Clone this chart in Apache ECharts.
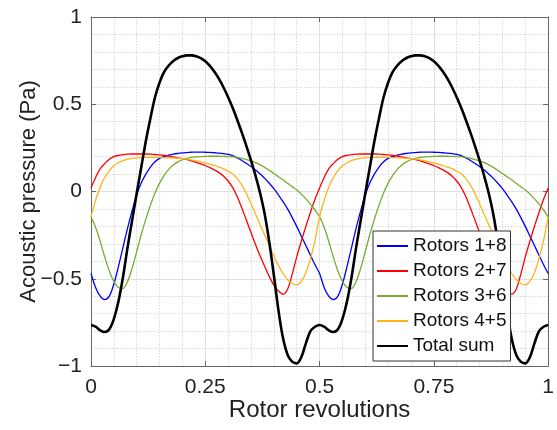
<!DOCTYPE html>
<html>
<head>
<meta charset="utf-8">
<script src="https://cdn.jsdelivr.net/npm/echarts@6/dist/echarts.min.js"></script>
<style>html,body{margin:0;padding:0;background:#fff;}#c{width:557px;height:430px;}</style>
</head>
<body>
<div id="c"></div>
<script>
var revolutions = [0,0.01,0.02,0.03,0.04,0.05,0.06,0.07,0.08,0.09,0.1,0.11,0.12,0.13,0.14,0.15,0.16,0.17,0.18,0.19,0.2,0.21,0.22,0.23,0.24,0.25,0.26,0.27,0.28,0.29,0.3,0.31,0.32,0.33,0.34,0.35,0.36,0.37,0.38,0.39,0.4,0.41,0.42,0.43,0.44,0.45,0.46,0.47,0.48,0.49,0.5,
0.51,0.52,0.53,0.54,0.55,0.56,0.57,0.58,0.59,0.6,0.61,0.62,0.63,0.64,0.65,0.66,0.67,0.68,0.69,0.7,0.71,0.72,0.73,0.74,0.75,0.76,0.77,0.78,0.79,0.8,0.81,0.82,0.83,0.84,0.85,0.86,0.87,0.88,0.89,0.9,0.91,0.92,0.93,0.94,0.95,0.96,0.97,0.98,0.99,1];

var rotors18 = [-0.47,-0.55,-0.60,-0.62,-0.60,-0.53,-0.43,-0.32,-0.21,-0.11,-0.02,0.05,0.10,0.14,0.17,0.19,0.20,0.208,0.214,0.218,0.221,0.223,0.225,0.226,0.226,0.225,0.224,0.222,0.22,0.217,0.213,0.205,0.193,0.178,0.161,0.143,0.123,0.1,0.075,0.047,0.016,-0.02,-0.058,-0.1,-0.148,-0.2,-0.255,-0.31,-0.365,-0.42,-0.47,
-0.55,-0.60,-0.62,-0.60,-0.53,-0.43,-0.32,-0.21,-0.11,-0.02,0.05,0.10,0.14,0.17,0.19,0.20,0.208,0.214,0.218,0.221,0.223,0.225,0.226,0.226,0.225,0.224,0.222,0.22,0.217,0.213,0.205,0.193,0.178,0.161,0.143,0.123,0.1,0.075,0.047,0.016,-0.02,-0.058,-0.1,-0.148,-0.2,-0.255,-0.31,-0.365,-0.42,-0.47];

var rotors27 = [0.02,0.08,0.13,0.16,0.185,0.20,0.207,0.211,0.214,0.215,0.215,0.215,0.215,0.214,0.212,0.21,0.207,0.203,0.198,0.193,0.188,0.182,0.175,0.167,0.158,0.148,0.137,0.124,0.108,0.087,0.06,0.022,-0.03,-0.095,-0.165,-0.235,-0.305,-0.37,-0.43,-0.487,-0.537,-0.57,-0.588,-0.56,-0.475,-0.375,-0.285,-0.2,-0.12,-0.045,0.02,
0.08,0.13,0.16,0.185,0.20,0.207,0.211,0.214,0.215,0.215,0.215,0.215,0.214,0.212,0.21,0.207,0.203,0.198,0.193,0.188,0.182,0.175,0.167,0.158,0.148,0.137,0.124,0.108,0.087,0.06,0.022,-0.03,-0.095,-0.165,-0.235,-0.305,-0.37,-0.43,-0.487,-0.537,-0.57,-0.588,-0.56,-0.475,-0.375,-0.285,-0.2,-0.12,-0.045,0.02];

var rotors36 = [-0.145,-0.205,-0.285,-0.375,-0.455,-0.515,-0.55,-0.555,-0.515,-0.44,-0.345,-0.245,-0.158,-0.078,-0.008,0.048,0.093,0.127,0.152,0.17,0.182,0.19,0.195,0.198,0.2,0.201,0.202,0.202,0.202,0.201,0.2,0.198,0.195,0.19,0.183,0.175,0.165,0.153,0.138,0.121,0.103,0.085,0.067,0.047,0.028,0.008,-0.015,-0.042,-0.072,-0.106,-0.145,
-0.205,-0.285,-0.375,-0.455,-0.515,-0.55,-0.555,-0.515,-0.44,-0.345,-0.245,-0.158,-0.078,-0.008,0.048,0.093,0.127,0.152,0.17,0.182,0.19,0.195,0.198,0.2,0.201,0.202,0.202,0.202,0.201,0.2,0.198,0.195,0.19,0.183,0.175,0.165,0.153,0.138,0.121,0.103,0.085,0.067,0.047,0.028,0.008,-0.015,-0.042,-0.072,-0.106,-0.145];

var rotors45 = [-0.145,-0.05,0.025,0.08,0.12,0.148,0.165,0.177,0.185,0.19,0.193,0.195,0.196,0.196,0.196,0.195,0.194,0.193,0.192,0.19,0.188,0.185,0.181,0.176,0.17,0.164,0.157,0.149,0.14,0.13,0.117,0.1,0.074,0.037,-0.012,-0.07,-0.13,-0.19,-0.25,-0.31,-0.37,-0.425,-0.47,-0.505,-0.527,-0.535,-0.515,-0.465,-0.385,-0.28,-0.145,
-0.05,0.025,0.08,0.12,0.148,0.165,0.177,0.185,0.19,0.193,0.195,0.196,0.196,0.196,0.195,0.194,0.193,0.192,0.19,0.188,0.185,0.181,0.176,0.17,0.164,0.157,0.149,0.14,0.13,0.117,0.1,0.074,0.037,-0.012,-0.07,-0.13,-0.19,-0.25,-0.31,-0.37,-0.425,-0.47,-0.505,-0.527,-0.535,-0.515,-0.465,-0.385,-0.28,-0.145];

var totalSum = [-0.765,-0.775,-0.795,-0.805,-0.79,-0.73,-0.63,-0.49,-0.32,-0.165,-0.01,0.14,0.29,0.42,0.54,0.625,0.685,0.722,0.748,0.765,0.775,0.78,0.78,0.775,0.764,0.746,0.72,0.686,0.645,0.596,0.54,0.478,0.41,0.337,0.26,0.178,0.09,-0.01,-0.13,-0.29,-0.48,-0.68,-0.84,-0.935,-0.975,-0.985,-0.95,-0.87,-0.80,-0.775,-0.765,
-0.775,-0.795,-0.805,-0.79,-0.73,-0.63,-0.49,-0.32,-0.165,-0.01,0.14,0.29,0.42,0.54,0.625,0.685,0.722,0.748,0.765,0.775,0.78,0.78,0.775,0.764,0.746,0.72,0.686,0.645,0.596,0.54,0.478,0.41,0.337,0.26,0.178,0.09,-0.01,-0.13,-0.29,-0.48,-0.68,-0.84,-0.935,-0.975,-0.985,-0.95,-0.87,-0.80,-0.775,-0.765];

var seriesNames = ['Rotors 1+8','Rotors 2+7','Rotors 3+6','Rotors 4+5','Total sum'];
var xTicks = [0, 0.25, 0.5, 0.75, 1];
var yTicks = [-1, -0.5, 0, 0.5, 1];

var FONT = '"Liberation Sans", Arial, sans-serif';
var colors = ['#0000ff','#ff0000','#77ac30','#ffb31a','#000000'];
var widths = [1.3,1.3,1.3,1.3,2.6];
var allData = [rotors18, rotors27, rotors36, rotors45, totalSum];

function pairs(arr){ return revolutions.map(function(x,i){ return [x, arr[i]]; }); }

var series = seriesNames.map(function(n, k){
  return { name: n, type: 'line', data: pairs(allData[k]), symbol: 'none', showSymbol: false,
    smooth: 0.35,
    lineStyle: { color: colors[k], width: widths[k] }, itemStyle: { color: colors[k] },
    z: k === 4 ? 3 : 2, animation: false };
});

var axisLineStyle = { color: '#666', width: 1 };
var chart = echarts.init(document.getElementById('c'), null, { renderer: 'canvas' });
chart.setOption({
  animation: false,
  backgroundColor: '#fff',
  grid: { left: 91, right: 5, top: 17, bottom: 64, containLabel: false },
  xAxis: [{
    type: 'value', min: xTicks[0], max: xTicks[xTicks.length-1], interval: 0.25,
    name: 'Rotor revolutions', nameLocation: 'middle', nameGap: 32, nameMoveOverlap: false,
    nameTextStyle: { fontSize: 24, color: '#222', fontFamily: FONT },
    axisLine: { show: true, onZero: false, lineStyle: axisLineStyle },
    axisTick: { show: true, inside: true, length: 5, lineStyle: axisLineStyle },
    axisLabel: { fontSize: 21, color: '#222', fontFamily: FONT, margin: 11,
      formatter: function(v){ return String(v); } },
    splitLine: { show: true, lineStyle: { color: '#e0e0e0', width: 1 } },
    minorTick: { show: false, splitNumber: 5 },
    minorSplitLine: { show: true, lineStyle: { color: '#d8d8d8', width: 1, type: [1.5, 1.5] } }
  }, {
    type: 'value', position: 'top', min: 0, max: 1, interval: 0.25,
    axisLine: { show: true, onZero: false, lineStyle: axisLineStyle },
    axisTick: { show: true, inside: true, length: 5, lineStyle: axisLineStyle },
    axisLabel: { show: false }, splitLine: { show: false }
  }],
  yAxis: [{
    type: 'value', min: yTicks[0], max: yTicks[yTicks.length-1], interval: 0.5,
    name: 'Acoustic pressure (Pa)', nameLocation: 'middle', nameGap: 51, nameRotate: 90,
    nameMoveOverlap: false,
    nameTextStyle: { fontSize: 22, color: '#222', fontFamily: FONT },
    axisLine: { show: true, onZero: false, lineStyle: axisLineStyle },
    axisTick: { show: true, inside: true, length: 5, lineStyle: axisLineStyle },
    axisLabel: { fontSize: 21, color: '#222', fontFamily: FONT, margin: 9,
      formatter: function(v){ return String(v).replace('-', '\u2212'); } },
    splitLine: { show: true, lineStyle: { color: '#e0e0e0', width: 1 } },
    minorTick: { show: false, splitNumber: 5 },
    minorSplitLine: { show: true, lineStyle: { color: '#d8d8d8', width: 1, type: [1.5, 1.5] } }
  }, {
    type: 'value', position: 'right', min: -1, max: 1, interval: 0.5,
    axisLine: { show: true, onZero: false, lineStyle: axisLineStyle },
    axisTick: { show: true, inside: true, length: 5, lineStyle: axisLineStyle },
    axisLabel: { show: false }, splitLine: { show: false }
  }],
  legend: {
    data: seriesNames, orient: 'vertical', left: 373, top: 231,
    backgroundColor: '#fff', borderColor: '#333', borderWidth: 1, borderRadius: 0,
    padding: [5, 4, 5, 3], itemWidth: 31, itemHeight: 14, itemGap: 5,
    itemStyle: { opacity: 0, color: 'rgba(0,0,0,0)', borderWidth: 0 },
    textStyle: { fontSize: 19, color: '#111', fontFamily: FONT, lineHeight: 20 },
    z: 10
  },
  series: series
});
</script>
</body>
</html>
